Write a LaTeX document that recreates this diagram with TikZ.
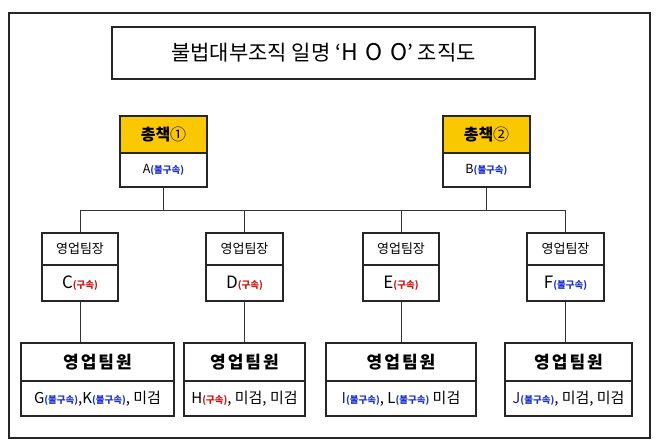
\documentclass[tikz,border=0pt]{standalone}
\usepackage{fontspec}
\setmainfont{Noto Sans CJK KR}
\definecolor{gold}{RGB}{250,200,0}
\definecolor{bluec}{RGB}{30,50,210}
\definecolor{navyc}{RGB}{25,30,150}
\definecolor{redc}{RGB}{205,20,20}
\newcommand{\fs}[1]{\fontsize{#1}{#1}\selectfont}
\newcommand{\bl}[1]{{\fs{9.5}\bfseries\color{bluec}#1}}
\newcommand{\rd}[1]{{\fs{9.5}\bfseries\color{redc}#1}}
\newcommand{\ksp}{\hspace{2pt}}
\begin{document}
\begin{tikzpicture}[x=1pt,y=-1pt,
  box/.style={draw=black!85, line width=1.1pt, inner sep=0pt, fill=white, align=center},
  conn/.style={draw=black!80, line width=1pt}]
\useasboundingbox (0,0) rectangle (658,445);
\node[draw=black!85, line width=1.2pt, minimum width=641pt, minimum height=425pt, inner sep=0pt] (frame) at (329.5,225.5) {};
\node[box, line width=1.6pt, minimum width=423pt, minimum height=52pt] (title) at (323.5,53) {\fs{21}불법대부조직 일명 ‘{\fs{23}H\,\,O\,\,O}’ 조직도};
% chiefs
\node[box, fill=gold, minimum width=87pt, minimum height=37pt] (c1t) at (163.5,134.5) {\fs{16}\bfseries 총책\mdseries①};
\node[box, minimum width=87pt, minimum height=34pt] (c1b) at (163.5,170) {\fs{12.5}A\bl{(불구속)}};
\node[box, fill=gold, minimum width=87pt, minimum height=37pt] (c2t) at (486.5,134.5) {\fs{16}\bfseries 총책\mdseries②};
\node[box, minimum width=87pt, minimum height=34pt] (c2b) at (486.5,170) {\fs{12.5}B\bl{(불구속)}};
\coordinate (bus) at (0,210);
% leaders
\node[box, minimum width=76pt, minimum height=32pt] (l1t) at (80,249) {\fs{13}영업팀장};
\node[box, minimum width=76pt, minimum height=36pt] (l1b) at (80,283) {\fs{17}C\rd{(구속)}};
\node[box, minimum width=77pt, minimum height=32pt] (l2t) at (244.5,249) {\fs{13}영업팀장};
\node[box, minimum width=77pt, minimum height=36pt] (l2b) at (244.5,283) {\fs{17}D\rd{(구속)}};
\node[box, minimum width=76pt, minimum height=32pt] (l3t) at (401,249) {\fs{13}영업팀장};
\node[box, minimum width=76pt, minimum height=36pt] (l3b) at (401,283) {\fs{17}E\rd{(구속)}};
\node[box, minimum width=77pt, minimum height=32pt] (l4t) at (565.5,249) {\fs{13}영업팀장};
\node[box, minimum width=77pt, minimum height=36pt] (l4b) at (565.5,283) {\fs{17}F\bl{(불구속)}};
% members
\node[box, minimum width=153pt, minimum height=38pt] (m1t) at (97.5,362) {\fs{17}\bfseries 영\ksp 업\ksp 팀\ksp 원};
\node[box, minimum width=153pt, minimum height=35pt] (m1b) at (97.5,398.5) {\fs{15}G\bl{(불구속)},K\bl{(불구속)}, 미검};
\node[box, minimum width=121pt, minimum height=38pt] (m2t) at (244.5,362) {\fs{17}\bfseries 영\ksp 업\ksp 팀\ksp 원};
\node[box, minimum width=121pt, minimum height=35pt] (m2b) at (244.5,398.5) {\fs{15}H\rd{(구속)}, 미검, 미검};
\node[box, minimum width=150pt, minimum height=38pt] (m3t) at (401,362) {\fs{17}\bfseries 영\ksp 업\ksp 팀\ksp 원};
\node[box, minimum width=150pt, minimum height=35pt] (m3b) at (401,398.5) {\fs{15}{\color{navyc}I}\bl{(불구속)}, L\bl{(불구속)} 미검};
\node[box, minimum width=127pt, minimum height=38pt] (m4t) at (568.5,362) {\fs{17}\bfseries 영\ksp 업\ksp 팀\ksp 원};
\node[box, minimum width=127pt, minimum height=35pt] (m4b) at (568.5,398.5) {\fs{15}{\color{navyc}J}\bl{(불구속)}, 미검, 미검};
% connectors
\draw[conn] (c1b.south) -- (c1b.south |- bus);
\draw[conn] (c2b.south) -- (c2b.south |- bus);
\draw[conn] (l1t.north |- bus) -- (l4t.north |- bus);
\draw[conn] (l1t.north |- bus) -- (l1t.north);
\draw[conn] (l2t.north |- bus) -- (l2t.north);
\draw[conn] (l3t.north |- bus) -- (l3t.north);
\draw[conn] (l4t.north |- bus) -- (l4t.north);
\draw[conn] (l1b.south) -- (l1b.south |- m1t.north);
\draw[conn] (l2b.south) -- (l2b.south |- m2t.north);
\draw[conn] (l3b.south) -- (l3b.south |- m3t.north);
\draw[conn] (l4b.south) -- (l4b.south |- m4t.north);
\end{tikzpicture}
\end{document}
